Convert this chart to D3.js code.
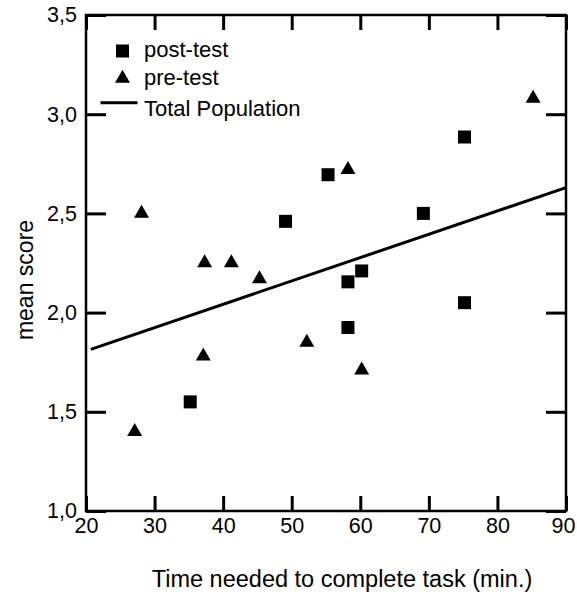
<!DOCTYPE html>
<html>
<head>
<meta charset="utf-8">
<script src="https://cdn.jsdelivr.net/npm/d3@7"></script>
<style>
  body { margin: 0; background: #fff; }
  text { font-family: "Liberation Sans", Arial, sans-serif; }
</style>
</head>
<body>
<div id="chart"></div>
<script>
// post-test (squares)
var postX = [35.2, 49.1, 55.3, 58.2, 58.2, 60.2, 69.2, 75.2, 75.2];
var postY = [1.55, 2.46, 2.695, 2.155, 1.925, 2.21, 2.50, 2.885, 2.05];
// pre-test (triangles)
var preX = [27.1, 28.1, 37.1, 37.3, 41.2, 45.3, 52.2, 58.2, 60.2, 85.2];
var preY = [1.40, 2.50, 1.78, 2.25, 2.25, 2.17, 1.85, 2.72, 1.71, 3.08];
// Total Population regression line
var lineX = [20.7, 90];
var lineY = [1.815, 2.63];

var xTicks = [20, 30, 40, 50, 60, 70, 80, 90];
var yTicks = [1.0, 1.5, 2.0, 2.5, 3.0, 3.5];

function draw() {
  var width = 577, height = 595;
  var margin = { top: 15, right: 11, bottom: 84, left: 86 };
  var innerWidth = width - margin.left - margin.right;
  var innerHeight = height - margin.top - margin.bottom;

  var svg = d3.select("#chart").append("svg")
    .attr("width", width)
    .attr("height", height);

  var g = svg.append("g")
    .attr("transform", "translate(" + margin.left + "," + margin.top + ")");

  var xScale = d3.scaleLinear().domain([20, 90]).range([0, innerWidth]);
  var yScale = d3.scaleLinear().domain([1.0, 3.5]).range([innerHeight, 0]);

  var fmtY = function(d) { return d3.format(".1f")(d).replace(".", ","); };

  // axes, ticks pointing inward
  var xAxis = d3.axisBottom(xScale).tickValues(xTicks).tickSizeInner(-15).tickSizeOuter(0).tickPadding(7);
  var xTop = d3.axisTop(xScale).tickValues(xTicks).tickSizeInner(-15).tickSizeOuter(0).tickFormat("");
  var yAxis = d3.axisLeft(yScale).tickValues(yTicks).tickSizeInner(-20).tickSizeOuter(0).tickPadding(9).tickFormat(fmtY);
  var yRight = d3.axisRight(yScale).tickValues(yTicks).tickSizeInner(-20).tickSizeOuter(0).tickFormat("");

  var axes = [
    g.append("g").attr("transform", "translate(0," + innerHeight + ")").call(xAxis),
    g.append("g").call(xTop),
    g.append("g").call(yAxis),
    g.append("g").attr("transform", "translate(" + innerWidth + ",0)").call(yRight)
  ];
  axes.forEach(function(a) {
    a.select(".domain").remove();
    a.selectAll(".tick line").attr("stroke", "#000").attr("stroke-width", 3);
    a.selectAll(".tick text").attr("fill", "#000").style("font-size", "21.5px");
  });
  // keep the last x label inside the page
  axes[0].selectAll(".tick text").filter(function(d) { return d === 90; }).attr("dx", -3);

  // frame
  g.append("rect")
    .attr("x", 0).attr("y", 0)
    .attr("width", innerWidth).attr("height", innerHeight)
    .attr("fill", "none").attr("stroke", "#000").attr("stroke-width", 2.5);

  // regression line
  var lineData = lineX.map(function(x, i) { return [x, lineY[i]]; });
  g.append("path")
    .datum(lineData)
    .attr("d", d3.line().x(function(d) { return xScale(d[0]); }).y(function(d) { return yScale(d[1]); }))
    .attr("fill", "none").attr("stroke", "#000").attr("stroke-width", 3);

  var square = d3.symbol().type(d3.symbolSquare).size(169);
  var triangle = d3.symbol().type(d3.symbolTriangle).size(97);

  var post = postX.map(function(x, i) { return { x: x, y: postY[i] }; });
  var pre = preX.map(function(x, i) { return { x: x, y: preY[i] }; });

  g.selectAll(".post").data(post).enter().append("path")
    .attr("class", "post")
    .attr("d", square)
    .attr("transform", function(d) { return "translate(" + xScale(d.x) + "," + yScale(d.y) + ")"; })
    .attr("fill", "#000");

  g.selectAll(".pre").data(pre).enter().append("path")
    .attr("class", "pre")
    .attr("d", triangle)
    .attr("transform", function(d) { return "translate(" + xScale(d.x) + "," + yScale(d.y) + ")"; })
    .attr("fill", "#000");

  // legend
  var legend = svg.append("g");
  legend.append("path").attr("d", square).attr("transform", "translate(122.5,51)");
  legend.append("text").attr("x", 144).attr("y", 57).text("post-test").style("font-size", "22px");
  legend.append("path").attr("d", triangle).attr("transform", "translate(122.5,78.5)");
  legend.append("text").attr("x", 144).attr("y", 84.5).text("pre-test").style("font-size", "22px");
  legend.append("line").attr("x1", 100.5).attr("x2", 137.5).attr("y1", 102.7).attr("y2", 102.7)
    .attr("stroke", "#000").attr("stroke-width", 3);
  legend.append("text").attr("x", 144).attr("y", 116).text("Total Population").style("font-size", "22px");

  // axis titles
  svg.append("text")
    .attr("x", 342).attr("y", 587)
    .attr("text-anchor", "middle")
    .style("font-size", "23.5px")
    .text("Time needed to complete task (min.)");

  svg.append("text")
    .attr("transform", "translate(33,280) rotate(-90)")
    .attr("text-anchor", "middle")
    .style("font-size", "23px")
    .text("mean score");
}

window.onload = draw;
</script>
</body>
</html>
